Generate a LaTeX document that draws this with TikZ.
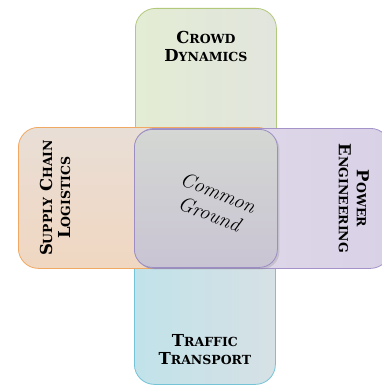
\documentclass[tikz,border=0pt]{standalone}
\usepackage{fontspec}
\newfontfamily\capsfont{DejaVu Serif}
\usepackage{tikz}
\usetikzlibrary{positioning}
\usetikzlibrary{shadows}

\definecolor{crowdfill}{HTML}{E3ECD4}
\definecolor{crowdfillb}{HTML}{E2E5DD}
\definecolor{crowdline}{HTML}{B2C97C}
\definecolor{trafficfill}{HTML}{C1E2EA}
\definecolor{trafficfillb}{HTML}{D6E1E5}
\definecolor{trafficline}{HTML}{74C3D7}
\definecolor{supplyfill}{HTML}{E9DED6}
\definecolor{supplyfillb}{HTML}{F0D7C1}
\definecolor{supplyline}{HTML}{F0A862}
\definecolor{powerfill}{HTML}{E1DCEA}
\definecolor{powerfillb}{HTML}{D9D1E6}
\definecolor{powerline}{HTML}{A493C9}
\definecolor{commonfill}{HTML}{D4D7D3}
\definecolor{commonfillb}{HTML}{C9C4D3}
\definecolor{commonline}{HTML}{9C8EC2}

% big first letter, small capitals for the rest
\newcommand{\capword}[2]{{\fontsize{16.5}{18}\selectfont #1}{\fontsize{12.5}{18}\selectfont #2}}

\tikzset{
  field/.style={rounded corners=20pt,line width=0.8pt,inner sep=0pt,anchor=north west},
  fieldlabel/.style={font=\capsfont\bfseries\fontsize{16.5}{18}\selectfont,align=center,inner sep=0pt},
}

\begin{document}
\begin{tikzpicture}[x=1pt,y=-1pt]
\useasboundingbox (0,0) rectangle (382,385);

\node[field,draw=crowdline,left color=crowdfill,right color=crowdfillb,minimum width=141pt,minimum height=260pt] (crowd) at (135,8) {};
\node[field,draw=trafficline,left color=trafficfill,right color=trafficfillb,minimum width=141pt,minimum height=256pt] (traffic) at (134,128) {};
\node[field,draw=supplyline,top color=supplyfill,bottom color=supplyfillb,minimum width=259pt,minimum height=141pt] (supply) at (18,127) {};
\node[field,draw=powerline,left color=powerfill,right color=powerfillb,minimum width=256pt,minimum height=140pt] (power) at (134,128) {};

\node[field,rounded corners=18pt,draw=commonline,top color=commonfill,bottom color=commonfillb,
  minimum width=143pt,minimum height=138pt,drop shadow={opacity=0.25,shadow xshift=2pt,shadow yshift=-2pt}] (common) at (134,129) {};

\node[fieldlabel,below=23pt of crowd.north,anchor=north] (crowd label) {\capword{C}{ROWD}\\\capword{D}{YNAMICS}};
\node[fieldlabel,above=20pt of traffic.south,anchor=south] (traffic label) {\capword{T}{RAFFIC}\\\capword{T}{RANSPORT}};
\node[fieldlabel,right=37pt of supply.west,rotate=90,anchor=center] (supply label) {\capword{S}{UPPLY} \capword{C}{HAIN}\\\capword{L}{OGISTICS}};
\node[fieldlabel,left=37pt of power.east,rotate=-90,anchor=center] (power label) {\capword{P}{OWER}\\\capword{E}{NGINEERING}};

\node[align=center,inner sep=0pt,rotate=-22,font=\itshape\fontsize{20.5}{23}\selectfont] (common label)
  at ([shift={(8,5)}]common.center) {Common\\Ground};
\end{tikzpicture}
\end{document}
